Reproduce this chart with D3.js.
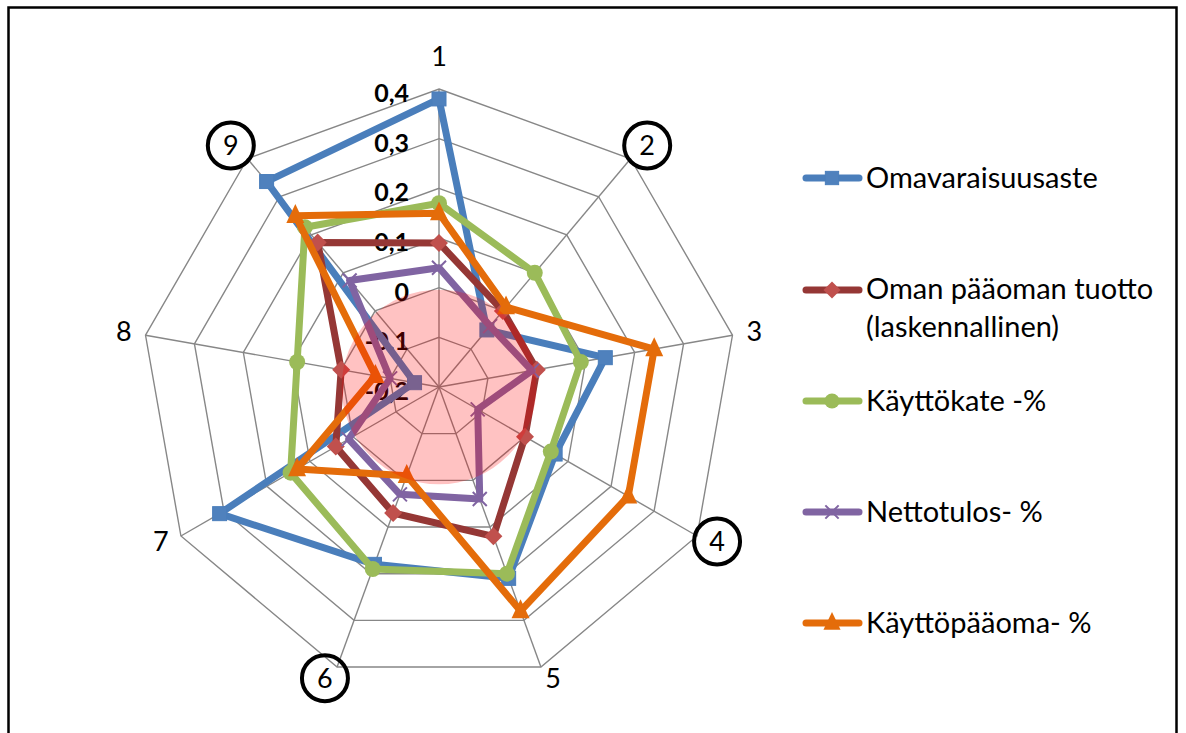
<!DOCTYPE html>
<html>
<head>
<meta charset="utf-8">
<script src="https://cdn.jsdelivr.net/npm/d3@7/dist/d3.min.js"></script>
<style>
  html, body { margin: 0; padding: 0; background: #fff; }
  svg { display: block; }
  text { font-family: Lato, "Open Sans", sans-serif; }
</style>
</head>
<body>
<svg id="chart" width="1186" height="733"></svg>
<script>
// ---- data ----
const categories = ["1", "2", "3", "4", "5", "6", "7", "8", "9"];
const circledCategories = ["2", "4", "6", "9"];
const tickValues = [-0.2, -0.1, 0, 0.1, 0.2, 0.3, 0.4];
const tickLabels = ["-0,2", "-0,1", "0", "0,1", "0,2", "0,3", "0,4"];
const seriesNames = ["Omavaraisuusaste", "Oman pääoman tuotto (laskennallinen)", "Käyttökate -%", "Nettotulos- %", "Käyttöpääoma- %"];
const omavaraisuusaste = [0.38, -0.05, 0.14, 0.07, 0.21, 0.18, 0.31, -0.15, 0.34];
const omanPaaomanTuotto = [0.09, 0.00, 0.00, 0.00, 0.12, 0.07, 0.04, 0.00, 0.18];
const kayttokate = [0.17, 0.10, 0.09, 0.06, 0.20, 0.19, 0.145, 0.09, 0.22];
const nettotulos = [0.04, -0.04, -0.01, -0.11, 0.04, 0.03, 0.01, -0.10, 0.08];
const kayttopaaoma = [0.15, 0.01, 0.24, 0.24, 0.28, -0.01, 0.13, -0.07, 0.25];
const highlightValue = 0; // shaded zone from the centre up to this value

// ---- styling / layout ----
const series = [
  { name: seriesNames[0], values: omavaraisuusaste, line: "#4A7EBB", fill: "#4F81BD", marker: "square" },
  { name: seriesNames[1], values: omanPaaomanTuotto, line: "#953735", fill: "#C0504D", marker: "diamond" },
  { name: seriesNames[2], values: kayttokate, line: "#9BBB59", fill: "#9BBB59", marker: "circle" },
  { name: seriesNames[3], values: nettotulos, line: "#8064A2", fill: "#8064A2", marker: "x" },
  { name: seriesNames[4], values: kayttopaaoma, line: "#E46C0A", fill: "#E46C0A", marker: "triangle" }
];

const svg = d3.select("#chart");
const cx = 439, cy = 387, R = 298;

const r = d3.scaleLinear().domain([d3.min(tickValues), d3.max(tickValues)]).range([0, R]);
const angle = d3.scalePoint().domain(categories).range([0, 2 * Math.PI * (categories.length - 1) / categories.length]);

function pt(cat, v) {
  const a = angle(cat), rr = r(v);
  return [cx + rr * Math.sin(a), cy - rr * Math.cos(a)];
}

// outer frame
svg.append("rect").attr("x", 8.5).attr("y", 7.5).attr("width", 1168).attr("height", 760)
  .attr("fill", "none").attr("stroke", "#000").attr("stroke-width", 2.5);

const g = svg.append("g");

// grid rings
tickValues.slice(1).forEach(tv => {
  const pts = categories.map(c => pt(c, tv));
  g.append("polygon").attr("points", pts.map(p => p.join(",")).join(" "))
    .attr("fill", "none").attr("stroke", "#878787").attr("stroke-width", 1.4);
});
// spokes
categories.forEach(c => {
  const p = pt(c, d3.max(tickValues));
  g.append("line").attr("x1", cx).attr("y1", cy).attr("x2", p[0]).attr("y2", p[1])
    .attr("stroke", "#878787").attr("stroke-width", 1.4);
});

// category labels (placed outside the outer vertex, box-style offset)
categories.forEach(c => {
  const a = angle(c);
  const v = pt(c, d3.max(tickValues));
  const s = Math.sin(a), co = Math.cos(a);
  const sgn = Math.abs(s) < 1e-6 ? 0 : Math.sign(s);
  const x = v[0] + sgn * (7 + 15 * Math.abs(s));
  const y = v[1] - 13 * co - 2 - 19 * Math.pow(Math.max(0, co), 8);
  g.append("text").attr("x", x).attr("y", y).attr("text-anchor", "middle")
    .attr("dominant-baseline", "central").attr("font-size", 27).attr("fill", "#000").text(c);
  if (circledCategories.includes(c)) {
    g.append("circle").attr("cx", x).attr("cy", y + 1).attr("r", 23)
      .attr("fill", "none").attr("stroke", "#000").attr("stroke-width", 4);
  }
});

// tick labels
tickValues.forEach((tv, i) => {
  g.append("text").attr("x", cx - 30).attr("y", cy - r(tv) + 3)
    .attr("text-anchor", "end").attr("dominant-baseline", "central")
    .attr("font-size", 25).attr("font-weight", "bold").attr("fill", "#000").text(tickLabels[i]);
});

// markers
function drawMarker(sel, type, x, y, s) {
  const size = s || 1;
  if (type === "square") {
    sel.append("rect").attr("x", x - 7 * size).attr("y", y - 7 * size).attr("width", 14 * size).attr("height", 14 * size)
      .attr("fill", "#4F81BD").attr("stroke", "#4A7EBB").attr("stroke-width", 1);
  } else if (type === "diamond") {
    const d = 9 * size;
    sel.append("polygon").attr("points", `${x},${y - d} ${x + d},${y} ${x},${y + d} ${x - d},${y}`)
      .attr("fill", "#C0504D");
  } else if (type === "circle") {
    sel.append("circle").attr("cx", x).attr("cy", y).attr("r", 8 * size).attr("fill", "#9BBB59");
  } else if (type === "triangle") {
    const d = 9 * size;
    sel.append("polygon").attr("points", `${x},${y - d * 1.3} ${x + d},${y + d * 0.8} ${x - d},${y + d * 0.8}`)
      .attr("fill", "#E46C0A");
  } else if (type === "x") {
    const d = 7 * size;
    sel.append("path").attr("d", `M${x - d},${y - d}L${x + d},${y + d}M${x - d},${y + d}L${x + d},${y - d}`)
      .attr("stroke", "#8064A2").attr("stroke-width", 2);
  }
}

const lineGen = d3.lineRadial()
  .angle((d, i) => angle(categories[i]))
  .radius(d => r(d))
  .curve(d3.curveLinearClosed);

series.forEach(s => {
  const sg = g.append("g").attr("transform", `translate(${cx},${cy})`);
  sg.append("path").attr("d", lineGen(s.values)).attr("fill", "none")
    .attr("stroke", s.line).attr("stroke-width", 7).attr("stroke-linejoin", "round");
  const mg = g.append("g");
  s.values.forEach((v, i) => {
    const p = pt(categories[i], v);
    drawMarker(mg, s.marker, p[0], p[1]);
  });
});

// highlighted (negative) zone
g.append("circle").attr("cx", cx).attr("cy", cy).attr("r", r(highlightValue) - 2)
  .attr("fill", "rgb(255,0,0)").attr("fill-opacity", 0.24);

// legend
const legendY = [[178, [188]], [290, [299, 337]], [401, [411]], [512, [522]], [623, [633]]];
const legendLines = [["Omavaraisuusaste"], ["Oman pääoman tuotto", "(laskennallinen)"], ["Käyttökate -%"], ["Nettotulos- %"], ["Käyttöpääoma- %"]];
series.forEach((s, i) => {
  const ly = legendY[i][0];
  const lg = svg.append("g");
  lg.append("line").attr("x1", 806).attr("x2", 859).attr("y1", ly).attr("y2", ly)
    .attr("stroke", s.line).attr("stroke-width", 7).attr("stroke-linecap", "round");
  drawMarker(lg, s.marker, 832, ly, 0.95);
  legendLines[i].forEach((t, j) => {
    lg.append("text").attr("x", 866).attr("y", legendY[i][1][j]).attr("font-size", 29)
      .attr("fill", "#000").text(t);
  });
});
</script>
</body>
</html>
